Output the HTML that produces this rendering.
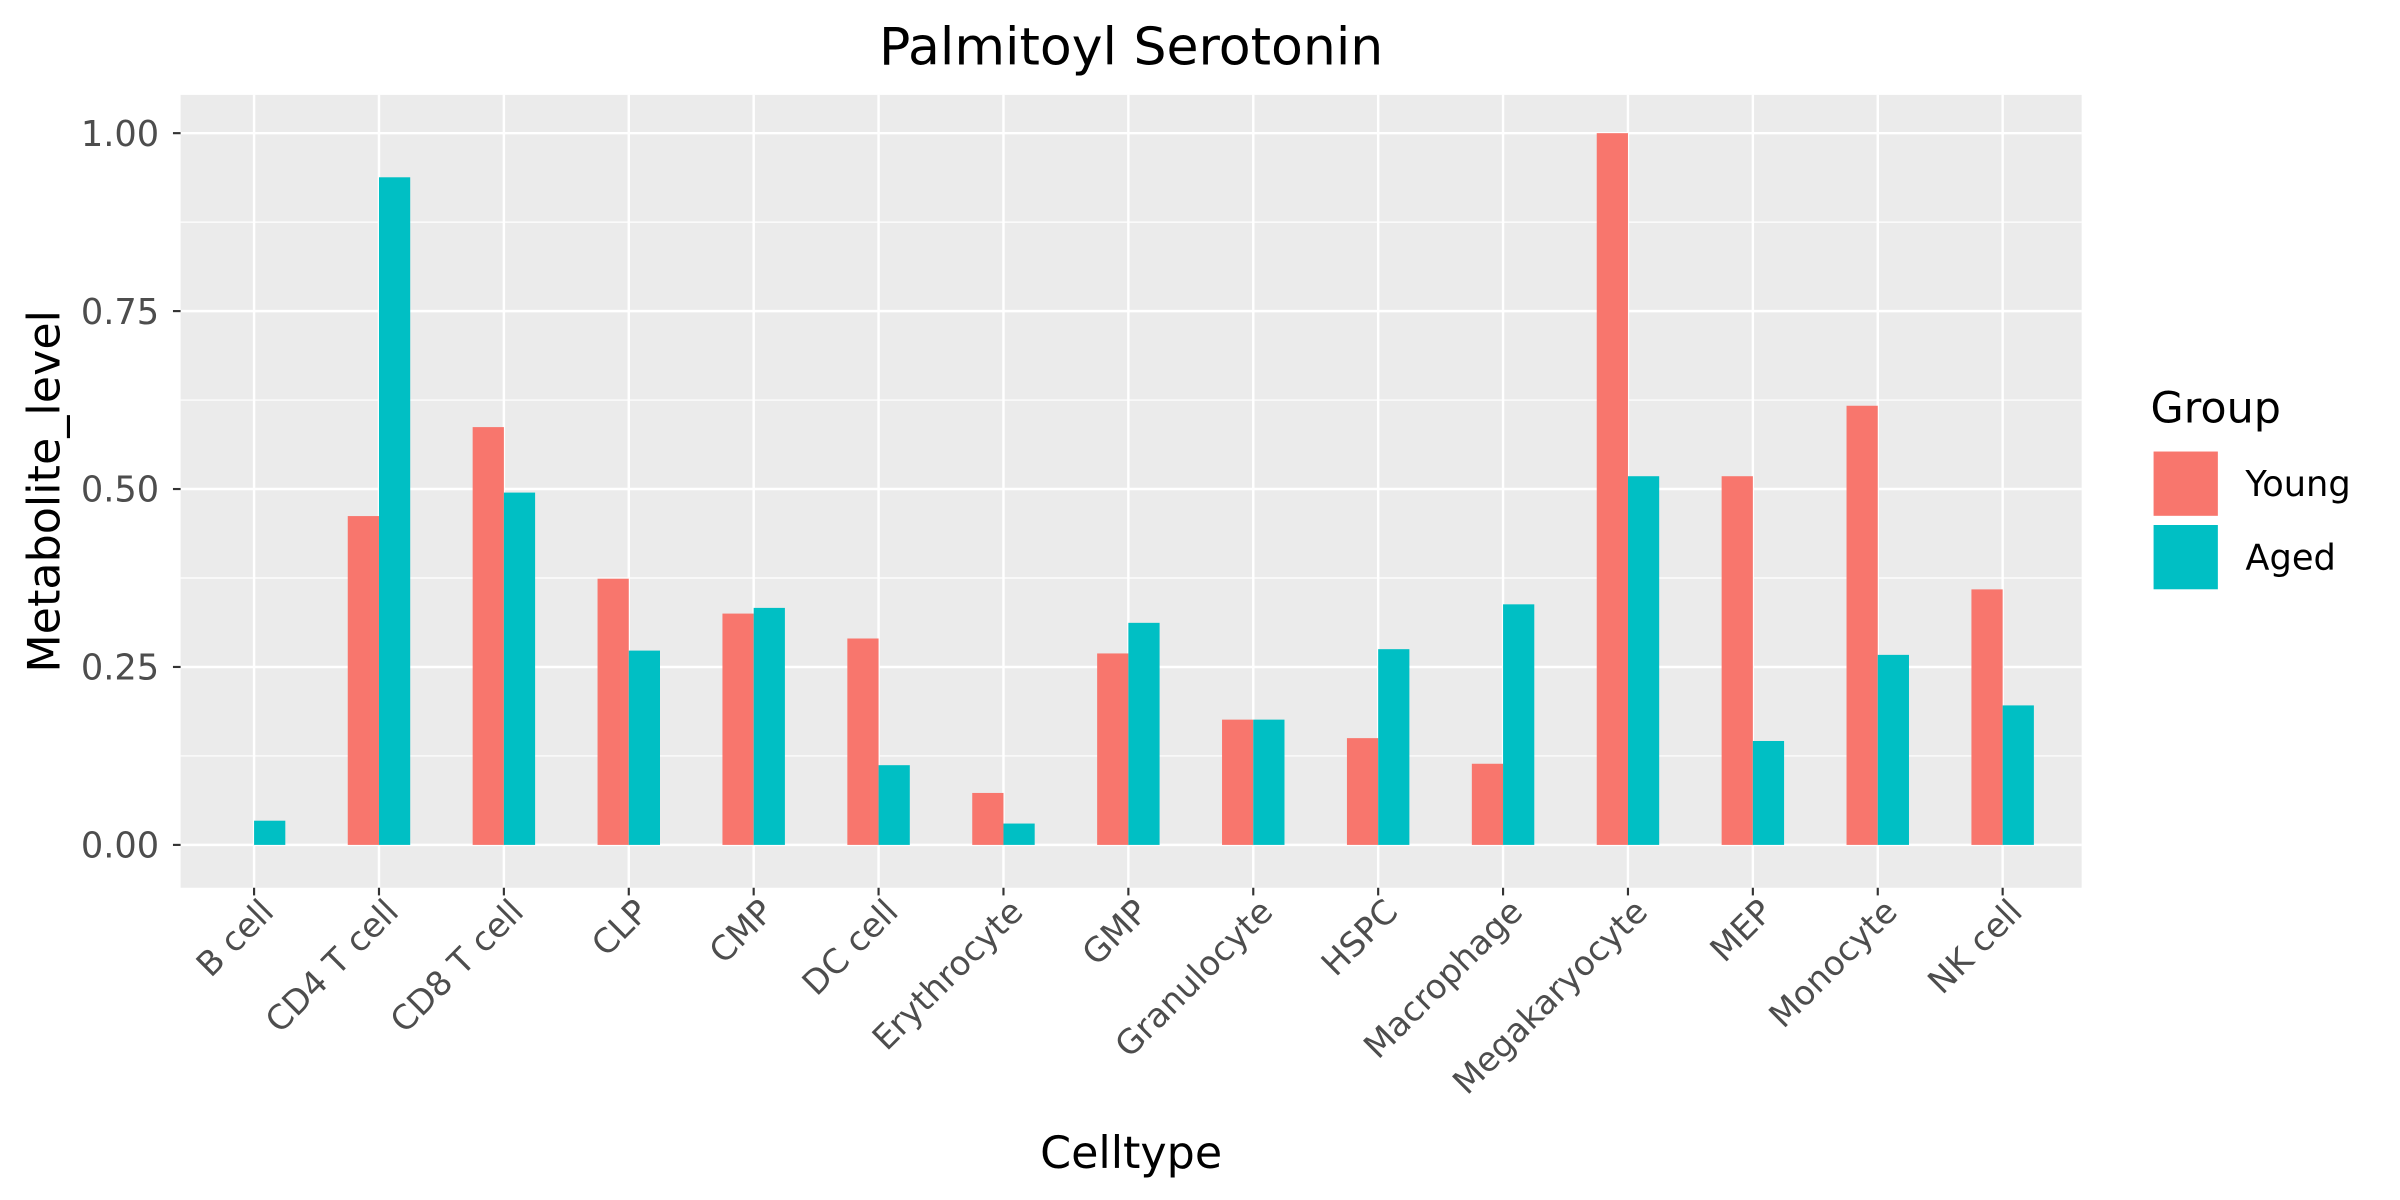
<!DOCTYPE html>
<html><head><meta charset="utf-8"><style>html,body{margin:0;padding:0;background:#fff}svg{display:block}text{font-family:"DejaVu Sans","Liberation Sans",sans-serif}</style></head>
<body>
<svg id="chart" width="2400" height="1200" viewBox="0 0 1568 784" xmlns="http://www.w3.org/2000/svg">
<rect width="1568" height="784" fill="#fff"/>
<text x="739" y="42" font-size="34" text-anchor="middle" fill="#000">Palmitoyl Serotonin</text>
<rect x="118" y="62" width="1242" height="518" fill="#ebebeb"/>
<g id="grid"></g><g id="bars"></g><g id="axes"></g>
<text x="739" y="763" font-size="29" text-anchor="middle" fill="#000">Celltype</text>
<text transform="translate(39,321) rotate(-90)" font-size="29" text-anchor="middle" fill="#000">Metabolite_level</text>
<g>
<text x="1405" y="276" font-size="28" fill="#000">Group</text>
<rect x="1407" y="295" width="42" height="42" fill="#F8766D"/>
<rect x="1407" y="343" width="42" height="42" fill="#00BFC4"/>
<text x="1467" y="324" font-size="23" fill="#000">Young</text>
<text x="1467" y="372" font-size="23" fill="#000">Aged</text>
</g>
</svg>
<script>
const categories=["B cell","CD4 T cell","CD8 T cell","CLP","CMP","DC cell","Erythrocyte","GMP","Granulocyte","HSPC","Macrophage","Megakaryocyte","MEP","Monocyte","NK cell"];
const young=[0,0.462,0.587,0.374,0.325,0.29,0.073,0.269,0.176,0.15,0.114,1.0,0.518,0.617,0.359];
const aged=[0.034,0.938,0.495,0.273,0.333,0.112,0.030,0.312,0.176,0.275,0.338,0.518,0.146,0.267,0.196];
const yTicks=[0,0.25,0.5,0.75,1.0];
const yTickLabels=["0.00","0.25","0.50","0.75","1.00"];
const NS="http://www.w3.org/2000/svg";
const step=81.6, x0=166;
function xPos(i){return x0+i*step;}
function yPos(v){return 552-v*465;}
function mk(tag,attrs,parent){const e=document.createElementNS(NS,tag);for(const k in attrs)e.setAttribute(k,attrs[k]);document.getElementById(parent).appendChild(e);return e;}
for(let i=0;i<yTicks.length-1;i++){
  const m=(yTicks[i]+yTicks[i+1])/2;
  const g=mk('line',{x1:118,x2:1360,y1:yPos(m),y2:yPos(m),stroke:'#fff','stroke-width':0.8},'grid');
  
  
}
yTicks.forEach((t,i)=>{
  const y=yPos(t);
  const g=mk('line',{x1:118,x2:1360,y1:y,y2:y,stroke:'#fff','stroke-width':1.6},'grid');
  
  
  const tk=mk('line',{x1:113,x2:118,y1:y,y2:y,stroke:'#333','stroke-width':1.4},'axes');
  
  
  const tx=mk('text',{x:104,y:y+8.3,'font-size':23,'text-anchor':'end',fill:'#4d4d4d'},'axes');
  tx.textContent=yTickLabels[i];
  
  
});
const bw=step*0.25;
categories.forEach((c,i)=>{
  const x=xPos(i);
  const g=mk('line',{x1:x,x2:x,y1:62,y2:580,stroke:'#fff','stroke-width':1.6},'grid');
  
  
  const b1=mk('rect',{x:x-bw,y:yPos(young[i]),width:bw,height:yPos(0)-yPos(young[i]),fill:'#F8766D'},'bars');
  
  
  const b2=mk('rect',{x:x,y:yPos(aged[i]),width:bw,height:yPos(0)-yPos(aged[i]),fill:'#00BFC4'},'bars');
  
  
  const tk=mk('line',{x1:x,x2:x,y1:580,y2:585,stroke:'#333','stroke-width':1.4},'axes');
  
  
  const tx=mk('text',{transform:`translate(${x+14},${597}) rotate(-45)`,'font-size':22,'text-anchor':'end',fill:'#4d4d4d'},'axes');
  tx.textContent=c;
  
  
});
</script>
</body></html>
